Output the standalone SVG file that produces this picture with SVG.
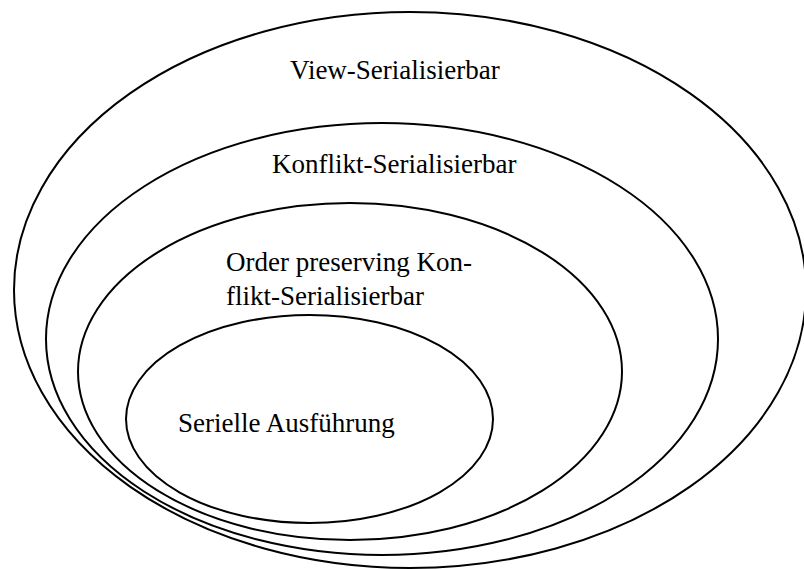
<svg xmlns="http://www.w3.org/2000/svg" width="804" height="569" viewBox="0 0 804 569">
  <style>
    .set { fill: none; stroke: #000; stroke-width: 2; }
    .lbl { font-family: "Liberation Serif", "Times New Roman", serif; font-size: 27px; fill: #000; }
  </style>
  <rect width="804" height="569" fill="#fff"/>
  <g id="view-serialisierbar">
    <ellipse class="set" cx="410" cy="290" rx="396" ry="278"/>
    <text class="lbl" x="290" y="79">View-Serialisierbar</text>
  </g>
  <g id="konflikt-serialisierbar">
    <ellipse class="set" cx="382" cy="339" rx="336" ry="216"/>
    <text class="lbl" x="272" y="173">Konflikt-Serialisierbar</text>
  </g>
  <g id="order-preserving">
    <ellipse class="set" cx="350" cy="371.5" rx="272" ry="168.5"/>
    <text class="lbl" x="226" y="271">Order preserving Kon-</text>
    <text class="lbl" x="226" y="305">flikt-Serialisierbar</text>
  </g>
  <g id="seriell">
    <ellipse class="set" cx="309.5" cy="419" rx="183.5" ry="104"/>
    <text class="lbl" x="178" y="432">Serielle Ausführung</text>
  </g>
  <g id="connectors"/>
</svg>
